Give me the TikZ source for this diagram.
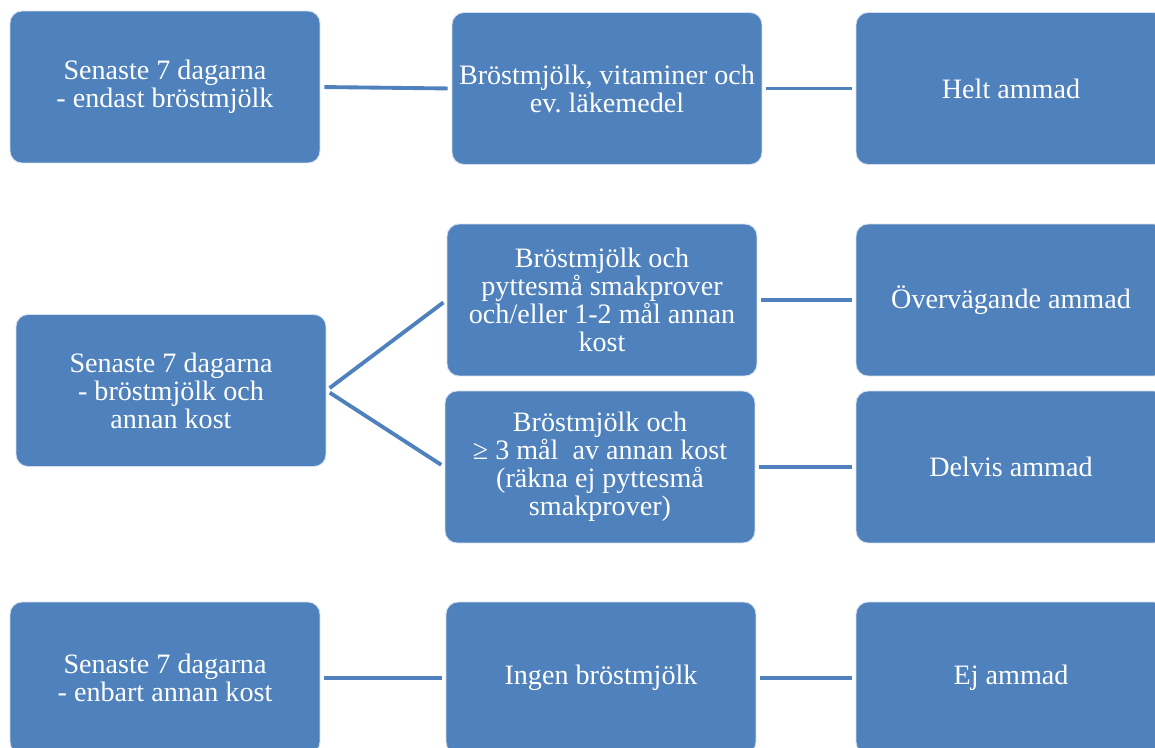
\documentclass[tikz,border=0pt]{standalone}
\usepackage{fontspec}
\setmainfont{Liberation Serif}
\usepackage{tikz}
\frenchspacing
\definecolor{boxblue}{RGB}{79,129,189}
\tikzset{
  box/.style={rectangle, rounded corners=0.24cm, fill=boxblue, draw=white!75!boxblue, line width=0.5pt,
    text=white, minimum width=6.2cm, minimum height=3.04cm, inner sep=2pt, align=center,
    font=\fontsize{16}{15.9}\selectfont},
  link/.style={draw=boxblue, line width=2.2pt, shorten <=0.08cm, shorten >=0.08cm}
}

\begin{document}
\begin{tikzpicture}[x=0.02cm, y=-0.02cm]
  \useasboundingbox (0,0) rectangle (1155,747);
  \clip (0,0) rectangle (1155,747);
  % row 1
  \node[box] (s1) at (165,87) {Senaste 7 dagarna\\- endast bröstmjölk};
  \node[box] (m1) at (607,88.5) {Bröstmjölk, vitaminer och\\ev. läkemedel};
  \node[box] (r1) at (1011,88.5) {Helt ammad};
  % row 2
  \node[box] (s2) at (171,390.5) {Senaste 7 dagarna\\- bröstmjölk och\\annan kost};
  \node[box] (m2) at (602,300) {Bröstmjölk och\\pyttesmå smakprover\\och/eller 1-2 mål annan\\kost};
  \node[box] (m3) at (600,467) {Bröstmjölk och\\≥ 3 mål\ \ av annan kost\\(räkna ej pyttesmå\\smakprover)};
  \node[box] (r2) at (1011,300) {Övervägande ammad};
  \node[box] (r3) at (1011,467) {Delvis ammad};
  % row 3
  \node[box] (s3) at (165,678) {Senaste 7 dagarna\\- enbart annan kost};
  \node[box] (m4) at (601,678) {Ingen bröstmjölk};
  \node[box] (r4) at (1011,678) {Ej ammad};

  \draw[link] (s1.east) -- (m1.west);
  \draw[link] (m1.east) -- (r1.west);
  \draw[link] (s2.east) -- (m2.west);
  \draw[link] (s2.east) -- (m3.west);
  \draw[link] (m2.east) -- (r2.west);
  \draw[link] (m3.east) -- (r3.west);
  \draw[link] (s3.east) -- (m4.west);
  \draw[link] (m4.east) -- (r4.west);
\end{tikzpicture}
\end{document}
